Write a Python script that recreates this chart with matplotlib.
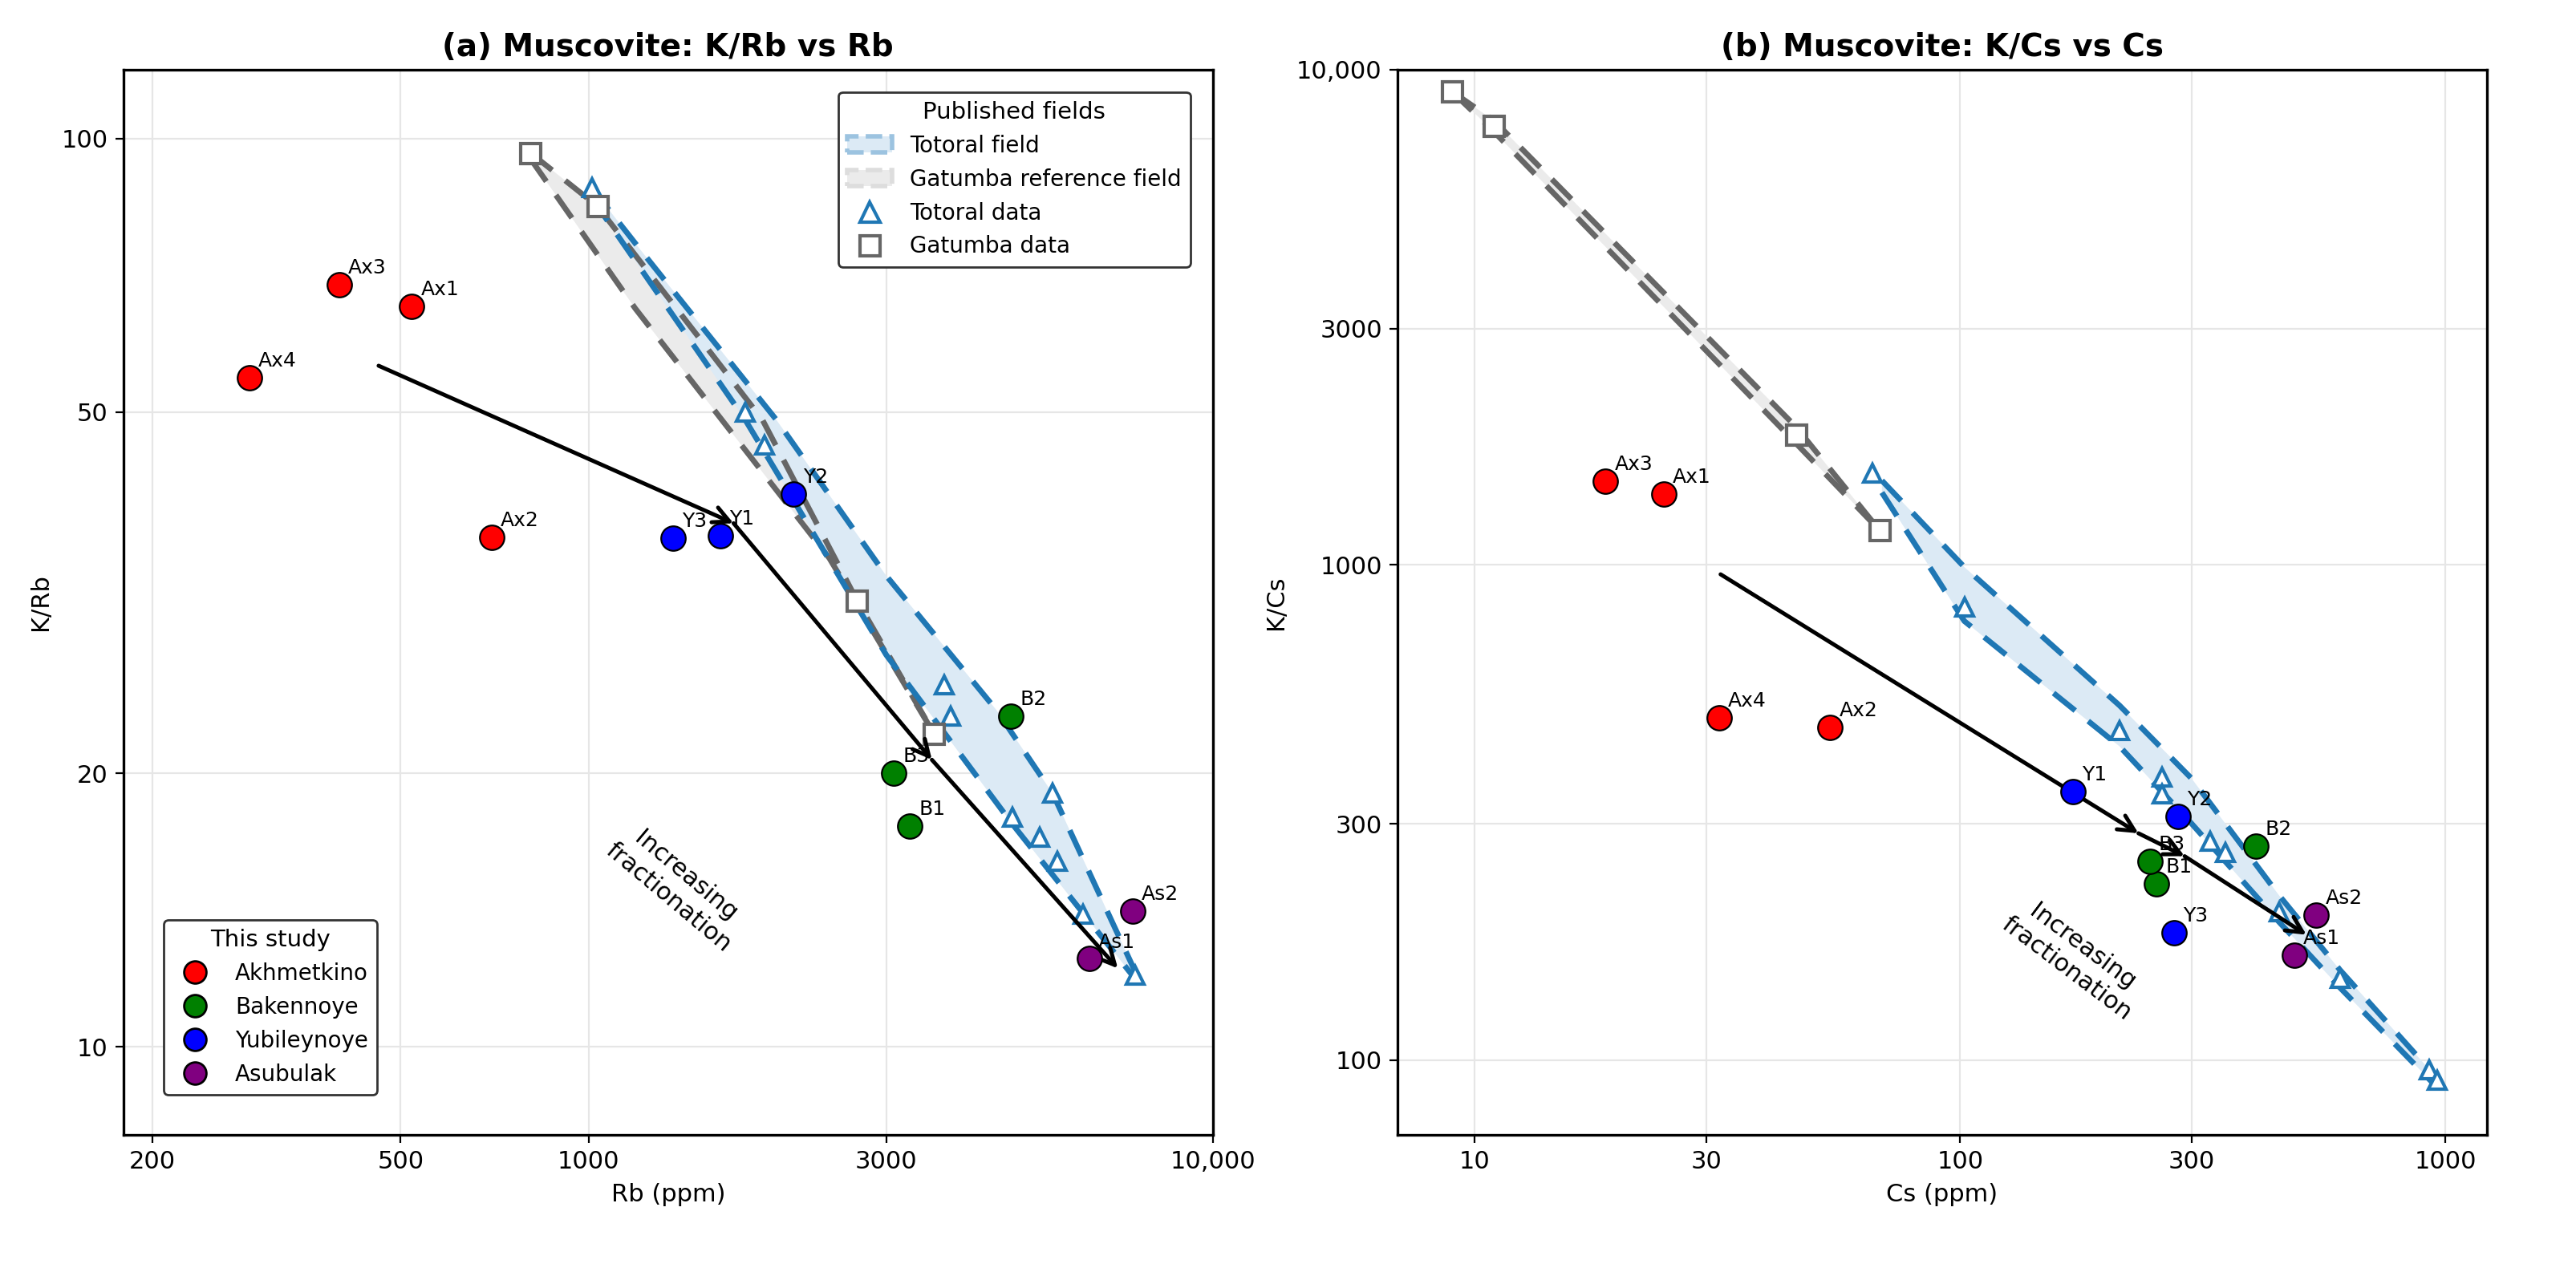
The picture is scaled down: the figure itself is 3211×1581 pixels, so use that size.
import matplotlib
matplotlib.use("Agg")
import matplotlib.pyplot as plt
from matplotlib.ticker import FixedLocator, NullLocator, FixedFormatter
from matplotlib.patches import Patch
from matplotlib.lines import Line2D
import numpy as np

# ---------------- data (a) K/Rb vs Rb ----------------
labels = ["Ax1", "Ax2", "Ax3", "Ax4", "B1", "B2", "B3", "Y1", "Y2", "Y3", "As1", "As2"]
groups = ["Akhmetkino"]*4 + ["Bakennoye"]*3 + ["Yubileynoye"]*3 + ["Asubulak"]*2
rb = [521, 699, 399, 286, 3274, 4754, 3084, 1629, 2133, 1367, 6340, 7450]
k_rb = [65.3, 36.4, 69.0, 54.5, 17.5, 23.1, 20.0, 36.5, 40.6, 36.3, 12.5, 14.1]
cs = [24.5, 54, 18.6, 31.9, 254, 407, 246, 171, 281, 276, 488, 542]
k_cs = [1390, 470, 1476, 491, 227, 270, 252, 348, 310, 181, 163, 196]
group_colors = {"Akhmetkino": "red", "Bakennoye": "green", "Yubileynoye": "blue", "Asubulak": "purple"}

gat_rb = [807, 1034, 2693, 3580]
gat_krb = [96.4, 84.2, 31.0, 22.1]
tot_rb = [1012, 1783, 1913, 3720, 3810, 5545, 4774, 5288, 5637, 6200, 7510]
tot_krb = [88.2, 50.0, 46.0, 25.0, 23.1, 19.0, 17.9, 17.0, 16.0, 14.0, 12.0]

tot_up_rb = [1012, 1200, 2000, 3000, 4500, 5545, 7600]
tot_up_krb = [88.2, 76, 49, 33, 23.5, 19.0, 11.9]
tot_lo_rb = [1012, 1783, 3000, 4774, 7500]
tot_lo_krb = [86, 49, 27, 17.6, 11.9]
gat_up_rb = [807, 1034, 1900, 2693, 3580]
gat_up_krb = [96.4, 84.2, 49, 31, 22.1]
gat_lo_rb = [807, 1188, 2432, 3580]
gat_lo_krb = [95, 65, 34.5, 22.1]

arrow_rb = [461, 1708, 3550, 7050]
arrow_krb = [56.2, 37.7, 20.7, 12.2]

# ---------------- data (b) K/Cs vs Cs ----------------
gat_cs = [8.97, 10.95, 45.9, 68.2]
gat_kcs = [9040, 7710, 1830, 1175]
tot_cs = [65.9, 102, 213, 261, 261, 327, 352, 454, 606, 925, 960]
tot_kcs = [1532, 821, 462, 373, 345, 276, 262, 199, 146, 95.5, 91]

tot_up_cs = [69, 102, 213, 300, 454, 606, 960]
tot_up_kcs = [1480, 990, 520, 370, 215, 152, 92]
tot_lo_cs = [69, 102, 213, 300, 454, 606, 940]
tot_lo_kcs = [1400, 770, 430, 300, 190, 140, 90]
gat_up_cs = [8.97, 10.95, 45.9, 68.2]
gat_up_kcs = [9040, 7900, 1900, 1175]
gat_lo_cs = [8.97, 10.95, 45.9, 68.2]
gat_lo_kcs = [9040, 7500, 1760, 1175]

arrow_cs = [32.1, 233, 290, 517]
arrow_kcs = [957, 287, 258, 179]

blue = "#1f77b4"
gray = "#666666"

fig, axes = plt.subplots(1, 2, figsize=(16.06, 7.905), dpi=200)
plt.subplots_adjust(left=0.048, right=0.965, top=0.945, bottom=0.105, wspace=0.17)


def field(ax, ux, uy, lx, ly, color, fill):
    xs = list(ux) + list(lx[::-1])
    ys = list(uy) + list(ly[::-1])
    ax.fill(xs, ys, color=fill, alpha=1, zorder=1, lw=0)
    ax.plot(ux, uy, ls=(0, (5, 3)), color=color, lw=2.5, zorder=2)
    ax.plot(lx, ly, ls=(0, (5, 3)), color=color, lw=2.5, zorder=2)


def arrow_path(ax, xs, ys):
    for i in range(len(xs) - 1):
        ax.annotate("", xy=(xs[i+1], ys[i+1]), xytext=(xs[i], ys[i]),
                    arrowprops=dict(arrowstyle="->", color="black", lw=1.8,
                                    shrinkA=0, shrinkB=0, mutation_scale=18), zorder=6)


def samples(ax, xs, ys):
    for x, y, lab, g in zip(xs, ys, labels, groups):
        ax.plot(x, y, "o", ms=11, mfc=group_colors[g], mec="black", mew=0.8, zorder=7)
        ax.annotate(lab, (x, y), xytext=(4, 5), textcoords="offset points", fontsize=9, zorder=8)


# ---- panel a
ax = axes[0]
ax.set_xscale("log"); ax.set_yscale("log")
field(ax, gat_up_rb, gat_up_krb, gat_lo_rb, gat_lo_krb, gray, "#ebebeb")
field(ax, tot_up_rb, tot_up_krb, tot_lo_rb, tot_lo_krb, blue, "#dceaf5")
ax.plot(tot_rb, tot_krb, "^", ms=8, mfc="white", mec=blue, mew=1.5, ls="none", zorder=4)
ax.plot(gat_rb, gat_krb, "s", ms=9, mfc="white", mec=gray, mew=1.5, ls="none", zorder=4)
arrow_path(ax, arrow_rb, arrow_krb)
samples(ax, rb, k_rb)
ax.text(1388, 15.0, "Increasing\nfractionation", rotation=-40, ha="center", va="center", fontsize=11)
ax.set_xlim(180, 10000); ax.set_ylim(8.0, 119)
ax.xaxis.set_major_locator(FixedLocator([200, 500, 1000, 3000, 10000]))
ax.xaxis.set_major_formatter(FixedFormatter(["200", "500", "1000", "3000", "10,000"]))
ax.xaxis.set_minor_locator(NullLocator())
ax.yaxis.set_major_locator(FixedLocator([10, 20, 50, 100]))
ax.yaxis.set_major_formatter(FixedFormatter(["10", "20", "50", "100"]))
ax.yaxis.set_minor_locator(NullLocator())
ax.set_xlabel("Rb (ppm)", fontsize=11); ax.set_ylabel("K/Rb", fontsize=11)
ax.set_title("(a) Muscovite: K/Rb vs Rb", fontsize=14, fontweight="bold")

h_pub = [Patch(facecolor="#dceaf5", edgecolor="#9cc3e0", ls="--", lw=2, label="Totoral field"),
         Patch(facecolor="#ebebeb", edgecolor="#dddddd", ls="--", lw=2, label="Gatumba reference field"),
         Line2D([], [], marker="^", ls="none", mfc="white", mec=blue, mew=1.5, ms=9, label="Totoral data"),
         Line2D([], [], marker="s", ls="none", mfc="white", mec=gray, mew=1.5, ms=9, label="Gatumba data")]
leg1 = ax.legend(handles=h_pub, title="Published fields", loc="upper right", fontsize=10,
                 title_fontsize=10.5, edgecolor="#333333", fancybox=True, framealpha=1,
                 borderaxespad=1.0)
ax.add_artist(leg1)
h_st = [Line2D([], [], marker="o", ls="none", mfc=c, mec="black", ms=10, label=g)
        for g, c in group_colors.items()]
ax.legend(handles=h_st, title="This study", loc="lower left", fontsize=10, title_fontsize=10.5,
          edgecolor="#333333", fancybox=True, framealpha=1, borderaxespad=1.8)

# ---- panel b
ax = axes[1]
ax.set_xscale("log"); ax.set_yscale("log")
field(ax, gat_up_cs, gat_up_kcs, gat_lo_cs, gat_lo_kcs, gray, "#ebebeb")
field(ax, tot_up_cs, tot_up_kcs, tot_lo_cs, tot_lo_kcs, blue, "#dceaf5")
ax.plot(tot_cs, tot_kcs, "^", ms=8, mfc="white", mec=blue, mew=1.5, ls="none", zorder=4)
ax.plot(gat_cs, gat_kcs, "s", ms=9, mfc="white", mec=gray, mew=1.5, ls="none", zorder=4)
arrow_path(ax, arrow_cs, arrow_kcs)
samples(ax, cs, k_cs)
ax.text(172, 161, "Increasing\nfractionation", rotation=-37, ha="center", va="center", fontsize=11)
ax.set_xlim(6.94, 1215); ax.set_ylim(70.6, 10000)
ax.xaxis.set_major_locator(FixedLocator([10, 30, 100, 300, 1000]))
ax.xaxis.set_major_formatter(FixedFormatter(["10", "30", "100", "300", "1000"]))
ax.xaxis.set_minor_locator(NullLocator())
ax.yaxis.set_major_locator(FixedLocator([100, 300, 1000, 3000, 10000]))
ax.yaxis.set_major_formatter(FixedFormatter(["100", "300", "1000", "3000", "10,000"]))
ax.yaxis.set_minor_locator(NullLocator())
ax.set_xlabel("Cs (ppm)", fontsize=11); ax.set_ylabel("K/Cs", fontsize=11)
ax.set_title("(b) Muscovite: K/Cs vs Cs", fontsize=14, fontweight="bold")

for ax in axes:
    ax.grid(True, color="#e6e6e6", lw=0.8, zorder=0)
    ax.set_axisbelow(True)
    ax.tick_params(labelsize=11)
    for s in ax.spines.values():
        s.set_linewidth(1.2)

fig.savefig("out.png", dpi=200)
